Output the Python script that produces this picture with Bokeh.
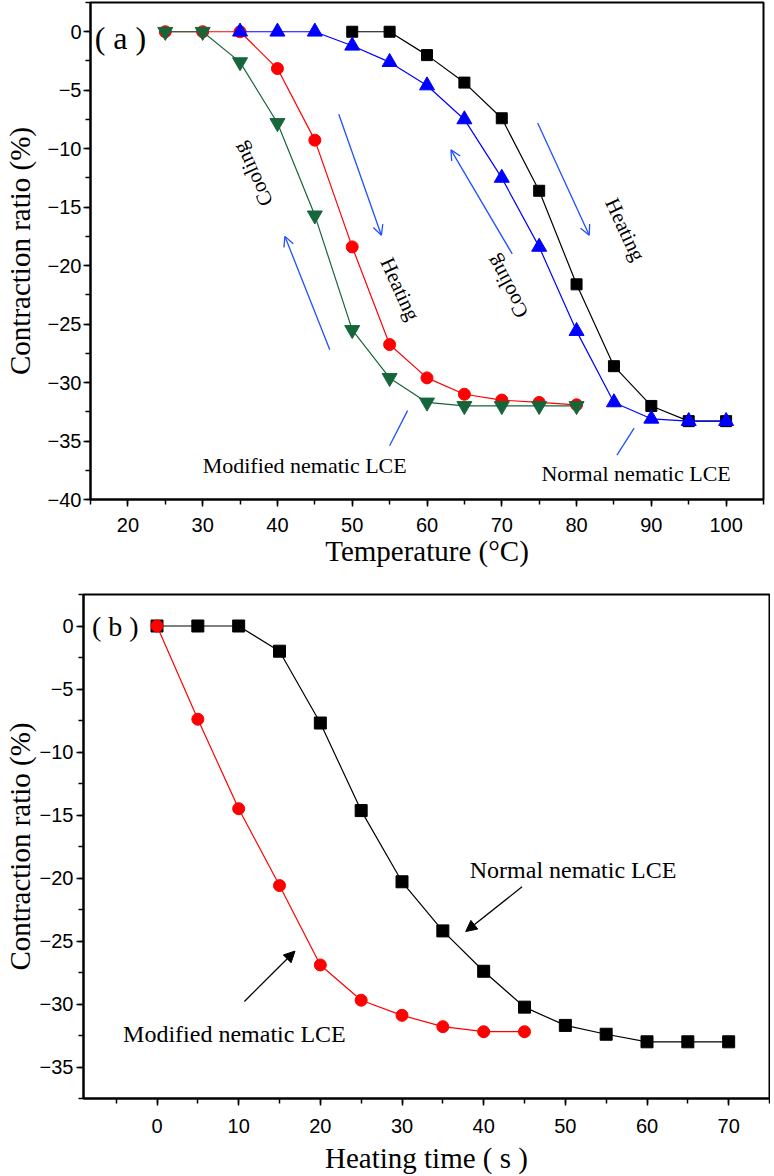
from bokeh.plotting import figure
from bokeh.models import Range1d, SingleIntervalTicker, Arrow, OpenHead, NormalHead, ColumnDataSource
from bokeh.embed import file_html
from bokeh.resources import INLINE
from bokeh.core.properties import value
import math

SERIF = "Liberation Serif"
SANS = "Liberation Sans"

# ---------------- Panel (a): contraction vs temperature ----------------
temp_normal_heat = [50, 55, 60, 65, 70, 75, 80, 85, 90, 95, 100]
ratio_normal_heat = [0, 0, -2.0, -4.35, -7.4, -13.6, -21.6, -28.6, -32.0, -33.3, -33.3]

temp_normal_cool = [35, 40, 45, 50, 55, 60, 65, 70, 75, 80, 85, 90, 95, 100]
ratio_normal_cool = [0, 0, 0, -1.2, -2.6, -4.6, -7.5, -12.5, -18.4, -25.6, -31.7, -33.1, -33.3, -33.3]

temp_mod = [25, 30, 35, 40, 45, 50, 55, 60, 65, 70, 75, 80]
ratio_mod_heat = [0, 0, 0, -3.15, -9.27, -18.4, -26.75, -29.6, -31.0, -31.5, -31.7, -31.9]
ratio_mod_cool = [0, 0, -2.6, -7.8, -15.7, -25.5, -29.6, -31.7, -32.0, -32.0, -32.0, -32.0]

# annotations (a)
arrow_a_x0 = [48.2, 47.0, 71.4, 74.8]
arrow_a_y0 = [-7.06, -27.2, -19.0, -7.8]
arrow_a_x1 = [53.9, 41.0, 63.2, 81.7]
arrow_a_y1 = [-17.4, -17.5, -10.1, -17.4]
pointer_a_x0 = [57.4, 87.7]
pointer_a_y0 = [-32.4, -33.9]
pointer_a_x1 = [55.0, 85.4]
pointer_a_y1 = [-35.4, -36.2]
word_a_text = ["Cooling", "Heating", "Cooling", "Heating"]
word_a_x = [36.7, 56.4, 70.7, 86.5]
word_a_y = [-12.2, -22.0, -21.8, -16.9]
word_a_angle = [115, -65.5, 118, -65]
name_a_text = ["Modified nematic LCE", "Normal nematic LCE"]
name_a_x = [30.0, 75.3]
name_a_y = [-37.1, -37.8]

# ---------------- Panel (b): contraction vs heating time ----------------
time_normal = [0, 5, 10, 15, 20, 25, 30, 35, 40, 45, 50, 55, 60, 65, 70]
ratio_normal = [0, 0, 0, -2.0, -7.7, -14.65, -20.3, -24.2, -27.4, -30.25, -31.7, -32.4, -33.0, -33.0, -33.0]
time_mod = [0, 5, 10, 15, 20, 25, 30, 35, 40, 45]
ratio_mod = [0, -7.4, -14.5, -20.6, -26.9, -29.7, -30.9, -31.8, -32.2, -32.2]

arrow_b_x0 = [44.7, 10.7]
arrow_b_y0 = [-20.7, -29.8]
arrow_b_x1 = [37.8, 16.9]
arrow_b_y1 = [-24.25, -25.8]
name_b_text = ["Normal nematic LCE", "Modified nematic LCE"]
name_b_x = [38.3, -4.15]
name_b_y = [-19.4, -32.4]

BLUE = "#0000FF"
RED = "#FF0000"
GREEN = "#15663A"
ARROW_BLUE = "#1E50FF"


def make_fig(xr, yr, height, mbl, mbr, mbt, mbb, xlabel, xstand, xlstand, ystand, ylstand):
    p = figure(width=770, height=height, x_range=Range1d(*xr), y_range=Range1d(*yr),
               output_backend="svg", toolbar_location=None,
               min_border_left=mbl, min_border_right=mbr, min_border_top=mbt, min_border_bottom=mbb)
    p.grid.visible = False
    p.background_fill_color = "white"
    p.border_fill_color = "white"
    p.outline_line_color = "black"
    p.outline_line_width = 2
    p.xaxis.ticker = SingleIntervalTicker(interval=10, num_minor_ticks=2)
    p.yaxis.ticker = SingleIntervalTicker(interval=5, num_minor_ticks=2)
    for ax in (p.xaxis[0], p.yaxis[0]):
        ax.axis_line_width = 2
        ax.axis_line_color = "black"
        ax.major_tick_in = 0
        ax.minor_tick_in = 0
        ax.major_tick_out = 7
        ax.minor_tick_out = 5
        ax.major_tick_line_width = 1.5
        ax.minor_tick_line_width = 1.5
        ax.major_tick_line_color = "black"
        ax.minor_tick_line_color = "black"
        ax.major_label_text_font = SANS
        ax.major_label_text_font_size = "20px"
        ax.major_label_text_color = "black"
        ax.axis_label_text_font = SERIF
        ax.axis_label_text_font_size = "29px"
        ax.axis_label_text_font_style = "normal"
        ax.axis_label_text_color = "black"
    p.xaxis.axis_label = xlabel
    p.yaxis.axis_label = "Contraction ratio (%)"
    p.xaxis.major_label_standoff = xstand
    p.xaxis.axis_label_standoff = xlstand
    p.yaxis.major_label_standoff = ystand
    p.yaxis.axis_label_standoff = ylstand
    return p


def series(p, x, y, color, marker, size):
    p.line(x, y, line_color=color, line_width=1.2)
    p.scatter(x, y, marker=marker, size=size, fill_color=color, line_color=color)


# ---- figure a
pa = make_fig((15, 105), (-40, 2.5), 590, 90, 7, 2, 91, "Temperature (°C)", 11, 0, 2, 9)
series(pa, temp_normal_heat, ratio_normal_heat, "black", "square", 11)
series(pa, temp_mod, ratio_mod_heat, RED, "circle", 12)
series(pa, temp_mod, ratio_mod_cool, GREEN, "inverted_triangle", 15)
series(pa, temp_normal_cool, ratio_normal_cool, BLUE, "triangle", 15)

src_arrow_a = ColumnDataSource(dict(x0=arrow_a_x0, y0=arrow_a_y0, x1=arrow_a_x1, y1=arrow_a_y1))
pa.add_layout(Arrow(source=src_arrow_a, x_start="x0", y_start="y0", x_end="x1", y_end="y1",
                    line_color=ARROW_BLUE, line_width=1.3,
                    end=OpenHead(size=10, line_color=ARROW_BLUE, line_width=1.3)))
pa.segment(pointer_a_x0, pointer_a_y0, pointer_a_x1, pointer_a_y1, line_color=ARROW_BLUE, line_width=1.3)

pa.text(word_a_x, word_a_y, text=word_a_text, angle=[math.radians(a) for a in word_a_angle],
        text_font=value(SERIF), text_font_size="21px", text_align="center", text_baseline="middle",
        text_color="black")
pa.text(name_a_x, name_a_y, text=name_a_text, text_font=value(SERIF), text_font_size="22px",
        text_align="left", text_baseline="middle", text_color="black")
pa.text([19.0], [-0.5], text=["( a )"], text_font=value(SERIF), text_font_size="32px",
        text_align="center", text_baseline="middle", text_color="black")

# ---- figure b
pb = make_fig((-9, 75), (-37.5, 2.5), 586, 83, 1, 4, 78, "Heating time ( s )", 13, 6, 3, 1)
series(pb, time_normal, ratio_normal, "black", "square", 12)
series(pb, time_mod, ratio_mod, RED, "circle", 12)

src_arrow_b = ColumnDataSource(dict(x0=arrow_b_x0, y0=arrow_b_y0, x1=arrow_b_x1, y1=arrow_b_y1))
pb.add_layout(Arrow(source=src_arrow_b, x_start="x0", y_start="y0", x_end="x1", y_end="y1",
                    line_color="black", line_width=1.3,
                    end=NormalHead(size=11, fill_color="black", line_color="black", line_width=1)))
pb.text(name_b_x, name_b_y, text=name_b_text, text_font=value(SERIF), text_font_size="24px",
        text_align="left", text_baseline="middle", text_color="black")
pb.text([-5.1], [0], text=["( b )"], text_font=value(SERIF), text_font_size="28px",
        text_align="center", text_baseline="middle", text_color="black")

open("out.html", "w").write(file_html([pa, pb], INLINE))
